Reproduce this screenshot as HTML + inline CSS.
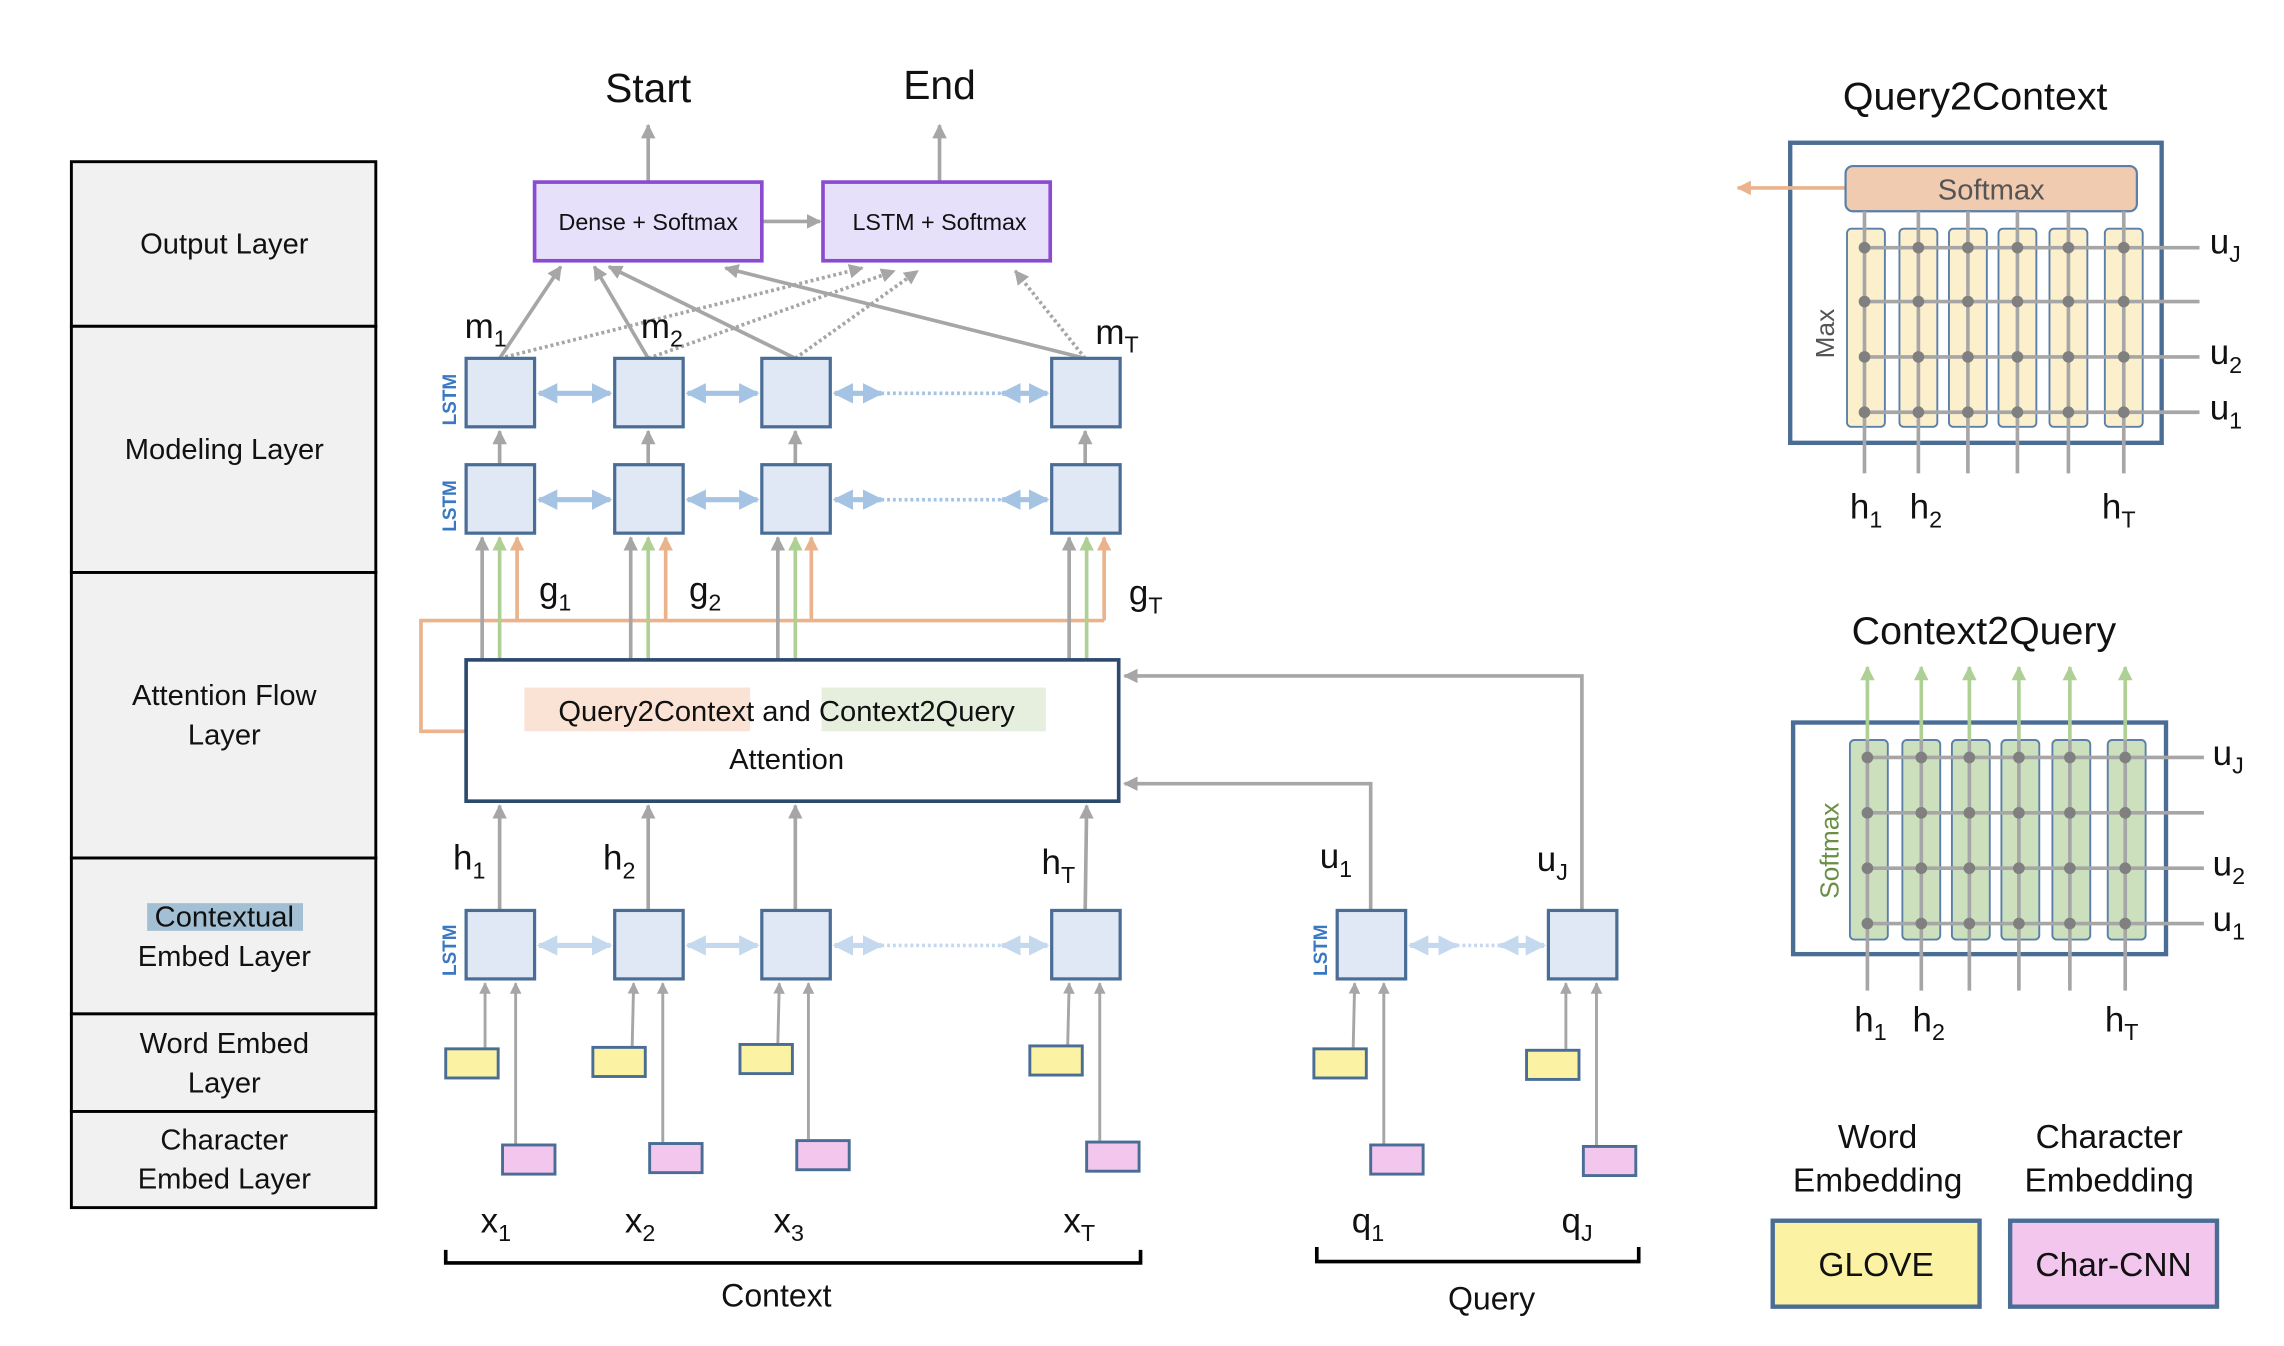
<!DOCTYPE html>
<html><head><meta charset="utf-8"><style>
html,body{margin:0;padding:0;background:#fff}
svg{display:block}
text{font-family:"Liberation Sans",sans-serif;fill:#111}
text.lstm{fill:#3a78c2;font-weight:bold;font-size:13px}
</style></head><body>
<svg width="2284" height="1346" viewBox="0 0 1568 924" preserveAspectRatio="none" xmlns="http://www.w3.org/2000/svg">
<defs>
<marker id="ag" viewBox="0 0 10 10" refX="9" refY="5" markerWidth="4" markerHeight="4" orient="auto-start-reverse"><path d="M0,0L10,5L0,10z" fill="#a6a6a6"/></marker>
<marker id="ao" viewBox="0 0 10 10" refX="9" refY="5" markerWidth="4" markerHeight="4" orient="auto-start-reverse"><path d="M0,0L10,5L0,10z" fill="#eab38c"/></marker>
<marker id="agr" viewBox="0 0 10 10" refX="9" refY="5" markerWidth="4" markerHeight="4" orient="auto-start-reverse"><path d="M0,0L10,5L0,10z" fill="#afd095"/></marker>
<marker id="ab" viewBox="0 0 10 10" refX="9" refY="5" markerWidth="4" markerHeight="4" orient="auto-start-reverse"><path d="M0,0L10,5L0,10z" fill="#a5c3e3"/></marker>
<marker id="ab2" viewBox="0 0 10 10" refX="9" refY="5" markerWidth="4" markerHeight="4" orient="auto-start-reverse"><path d="M0,0L10,5L0,10z" fill="#c5d9ee"/></marker>
</defs>

<g fill="#f1f1f1" stroke="#000" stroke-width="2">
<rect x="49" y="111" width="209" height="113"/>
<rect x="49" y="224" width="209" height="169"/>
<rect x="49" y="393" width="209" height="196"/>
<rect x="49" y="589" width="209" height="107"/>
<rect x="49" y="696" width="209" height="67"/>
<rect x="49" y="763" width="209" height="66"/>
</g>
<g font-size="20" text-anchor="middle">
<text x="154" y="174">Output Layer</text>
<text x="154" y="315">Modeling Layer</text>
<text x="154" y="484">Attention Flow</text>
<text x="154" y="511">Layer</text>
<rect x="101" y="620" width="107" height="19" fill="#a3bfd4"/>
<text x="154" y="636">Contextual</text>
<text x="154" y="663">Embed Layer</text>
<text x="154" y="723">Word Embed</text>
<text x="154" y="750">Layer</text>
<text x="154" y="789">Character</text>
<text x="154" y="816">Embed Layer</text>
</g>

<text x="445" y="70" font-size="28" text-anchor="middle">Start</text>
<text x="645" y="68" font-size="28" text-anchor="middle">End</text>
<g stroke="#a6a6a6" stroke-width="2.5" fill="none">
<line x1="445" y1="125" x2="445" y2="86" marker-end="url(#ag)"/>
<line x1="645" y1="125" x2="645" y2="86" marker-end="url(#ag)"/>
<line x1="523" y1="152" x2="563" y2="152" marker-end="url(#ag)"/>
<line x1="343" y1="246" x2="385" y2="183" marker-end="url(#ag)"/>
<line x1="445" y1="246" x2="408" y2="183" marker-end="url(#ag)"/>
<line x1="546" y1="246" x2="418" y2="183" marker-end="url(#ag)"/>
<line x1="745" y1="246" x2="498" y2="184" marker-end="url(#ag)"/>
</g>
<g stroke="#a6a6a6" stroke-width="2.5" fill="none" stroke-dasharray="2 2">
<line x1="343" y1="246" x2="592" y2="184" marker-end="url(#ag)"/>
<line x1="445" y1="246" x2="614" y2="186" marker-end="url(#ag)"/>
<line x1="546" y1="246" x2="630" y2="186" marker-end="url(#ag)"/>
<line x1="745" y1="246" x2="697" y2="186" marker-end="url(#ag)"/>
</g>
<g fill="#e6e0fb" stroke="#8a4bd1" stroke-width="2.5">
<rect x="367" y="125" width="156" height="54"/>
<rect x="565" y="125" width="156" height="54"/>
</g>
<text x="445" y="158" font-size="16" text-anchor="middle">Dense + Softmax</text>
<text x="645" y="158" font-size="16" text-anchor="middle">LSTM + Softmax</text>

<g font-size="24">
<text x="319" y="232">m<tspan font-size="16" dy="6">1</tspan></text>
<text x="440" y="232">m<tspan font-size="16" dy="6">2</tspan></text>
<text x="752" y="236">m<tspan font-size="16" dy="6">T</tspan></text>
</g>

<g stroke="#a6a6a6" stroke-width="2.5" fill="none">
<line x1="343" y1="319" x2="343" y2="296" marker-end="url(#ag)"/>
<line x1="445" y1="319" x2="445" y2="296" marker-end="url(#ag)"/>
<line x1="546" y1="319" x2="546" y2="296" marker-end="url(#ag)"/>
<line x1="745" y1="319" x2="745" y2="296" marker-end="url(#ag)"/>
</g>
<g stroke="#a5c3e3" stroke-width="3.5" fill="none">
<line x1="370" y1="270" x2="419" y2="270" marker-start="url(#ab)" marker-end="url(#ab)"/>
<line x1="472" y1="270" x2="520" y2="270" marker-start="url(#ab)" marker-end="url(#ab)"/>
<line x1="573" y1="270" x2="605" y2="270" marker-start="url(#ab)" marker-end="url(#ab)"/>
<line x1="688" y1="270" x2="719" y2="270" marker-start="url(#ab)" marker-end="url(#ab)"/>
<line x1="605" y1="270" x2="688" y2="270" stroke-dasharray="2 2" stroke-width="2.5"/>
<line x1="370" y1="343" x2="419" y2="343" marker-start="url(#ab)" marker-end="url(#ab)"/>
<line x1="472" y1="343" x2="520" y2="343" marker-start="url(#ab)" marker-end="url(#ab)"/>
<line x1="573" y1="343" x2="605" y2="343" marker-start="url(#ab)" marker-end="url(#ab)"/>
<line x1="688" y1="343" x2="719" y2="343" marker-start="url(#ab)" marker-end="url(#ab)"/>
<line x1="605" y1="343" x2="688" y2="343" stroke-dasharray="2 2" stroke-width="2.5"/>
</g>
<g fill="#dfe8f4" stroke="#4a6d96" stroke-width="2.2">
<rect x="320" y="246" width="47" height="47"/><rect x="422" y="246" width="47" height="47"/><rect x="523" y="246" width="47" height="47"/><rect x="722" y="246" width="47" height="47"/>
<rect x="320" y="319" width="47" height="47"/><rect x="422" y="319" width="47" height="47"/><rect x="523" y="319" width="47" height="47"/><rect x="722" y="319" width="47" height="47"/>
</g>
<text class="lstm" transform="translate(313,292) rotate(-90)">LSTM</text>
<text class="lstm" transform="translate(313,365) rotate(-90)">LSTM</text>
<text class="lstm" transform="translate(313,670) rotate(-90)">LSTM</text>
<text class="lstm" transform="translate(911,670) rotate(-90)">LSTM</text>

<g stroke="#eab38c" stroke-width="2.5" fill="none">
<polyline points="320,502 289,502 289,426 758,426"/>
<line x1="355" y1="426" x2="355" y2="369" marker-end="url(#ao)"/>
<line x1="457" y1="426" x2="457" y2="369" marker-end="url(#ao)"/>
<line x1="557" y1="426" x2="557" y2="369" marker-end="url(#ao)"/>
<line x1="758" y1="426" x2="758" y2="369" marker-end="url(#ao)"/>
</g>
<g stroke="#a6a6a6" stroke-width="2.5" fill="none">
<line x1="331" y1="453" x2="331" y2="369" marker-end="url(#ag)"/>
<line x1="433" y1="453" x2="433" y2="369" marker-end="url(#ag)"/>
<line x1="534" y1="453" x2="534" y2="369" marker-end="url(#ag)"/>
<line x1="734" y1="453" x2="734" y2="369" marker-end="url(#ag)"/>
</g>
<g stroke="#afd095" stroke-width="2.5" fill="none">
<line x1="343" y1="453" x2="343" y2="369" marker-end="url(#agr)"/>
<line x1="445" y1="453" x2="445" y2="369" marker-end="url(#agr)"/>
<line x1="546" y1="453" x2="546" y2="369" marker-end="url(#agr)"/>
<line x1="746" y1="453" x2="746" y2="369" marker-end="url(#agr)"/>
</g>
<g font-size="24">
<text x="370" y="413">g<tspan font-size="16" dy="6">1</tspan></text>
<text x="473" y="413">g<tspan font-size="16" dy="6">2</tspan></text>
<text x="775" y="415">g<tspan font-size="16" dy="6">T</tspan></text>
</g>

<rect x="320" y="453" width="448" height="97" fill="#fff" stroke="#2c4a6e" stroke-width="2.5"/>
<rect x="360" y="472" width="155" height="30" fill="#fae3d5"/>
<rect x="564" y="472" width="154" height="30" fill="#e6efdd"/>
<text x="540" y="495" font-size="20" text-anchor="middle">Query2Context and Context2Query</text>
<text x="540" y="528" font-size="20" text-anchor="middle">Attention</text>

<g stroke="#a6a6a6" stroke-width="2.5" fill="none">
<polyline points="941,625 941,538 772,538" marker-end="url(#ag)"/>
<polyline points="1086,625 1086,464 772,464" marker-end="url(#ag)"/>
<line x1="343" y1="625" x2="343" y2="553" marker-end="url(#ag)"/>
<line x1="445" y1="625" x2="445" y2="553" marker-end="url(#ag)"/>
<line x1="546" y1="625" x2="546" y2="553" marker-end="url(#ag)"/>
<line x1="745" y1="625" x2="746" y2="553" marker-end="url(#ag)"/>
</g>
<g font-size="24">
<text x="311" y="597">h<tspan font-size="16" dy="6">1</tspan></text>
<text x="414" y="597">h<tspan font-size="16" dy="6">2</tspan></text>
<text x="715" y="600">h<tspan font-size="16" dy="6">T</tspan></text>
<text x="906" y="596">u<tspan font-size="16" dy="6">1</tspan></text>
<text x="1055" y="598">u<tspan font-size="16" dy="6">J</tspan></text>
</g>

<g stroke="#c5d9ee" stroke-width="3.5" fill="none">
<line x1="370" y1="649" x2="419" y2="649" marker-start="url(#ab2)" marker-end="url(#ab2)"/>
<line x1="472" y1="649" x2="520" y2="649" marker-start="url(#ab2)" marker-end="url(#ab2)"/>
<line x1="573" y1="649" x2="605" y2="649" marker-start="url(#ab2)" marker-end="url(#ab2)"/>
<line x1="688" y1="649" x2="719" y2="649" marker-start="url(#ab2)" marker-end="url(#ab2)"/>
<line x1="605" y1="649" x2="688" y2="649" stroke-dasharray="2 2" stroke-width="2.5"/>
<line x1="968" y1="649" x2="1000" y2="649" marker-start="url(#ab2)" marker-end="url(#ab2)"/>
<line x1="1030" y1="649" x2="1060" y2="649" marker-start="url(#ab2)" marker-end="url(#ab2)"/>
<line x1="1000" y1="649" x2="1030" y2="649" stroke-dasharray="2 2" stroke-width="2.5"/>
</g>
<g fill="#dfe8f4" stroke="#4a6d96" stroke-width="2.2">
<rect x="320" y="625" width="47" height="47"/><rect x="422" y="625" width="47" height="47"/><rect x="523" y="625" width="47" height="47"/><rect x="722" y="625" width="47" height="47"/>
<rect x="918" y="625" width="47" height="47"/><rect x="1063" y="625" width="47" height="47"/>
</g>
<g stroke="#a6a6a6" stroke-width="2" fill="none">
<line x1="333" y1="719" x2="333" y2="675" marker-end="url(#ag)"/>
<line x1="354" y1="785" x2="354" y2="675" marker-end="url(#ag)"/>
<line x1="434" y1="718" x2="435" y2="675" marker-end="url(#ag)"/>
<line x1="455" y1="784" x2="455" y2="675" marker-end="url(#ag)"/>
<line x1="534" y1="716" x2="535" y2="675" marker-end="url(#ag)"/>
<line x1="555" y1="782" x2="555" y2="675" marker-end="url(#ag)"/>
<line x1="733" y1="717" x2="734" y2="675" marker-end="url(#ag)"/>
<line x1="755" y1="783" x2="755" y2="675" marker-end="url(#ag)"/>
<line x1="929" y1="719" x2="930" y2="675" marker-end="url(#ag)"/>
<line x1="950" y1="785" x2="950" y2="675" marker-end="url(#ag)"/>
<line x1="1075" y1="720" x2="1075" y2="675" marker-end="url(#ag)"/>
<line x1="1096" y1="786" x2="1096" y2="675" marker-end="url(#ag)"/>
</g>
<g fill="#fbf3a3" stroke="#4a6d96" stroke-width="2">
<rect x="306" y="720" width="36" height="20"/><rect x="407" y="719" width="36" height="20"/><rect x="508" y="717" width="36" height="20"/><rect x="707" y="718" width="36" height="20"/><rect x="902" y="720" width="36" height="20"/><rect x="1048" y="721" width="36" height="20"/>
</g>
<g fill="#f3c6ee" stroke="#4a6d96" stroke-width="2">
<rect x="345" y="786" width="36" height="20"/><rect x="446" y="785" width="36" height="20"/><rect x="547" y="783" width="36" height="20"/><rect x="746" y="784" width="36" height="20"/><rect x="941" y="786" width="36" height="20"/><rect x="1087" y="787" width="36" height="20"/>
</g>
<g font-size="24">
<text x="330" y="846">x<tspan font-size="16" dy="6">1</tspan></text>
<text x="429" y="846">x<tspan font-size="16" dy="6">2</tspan></text>
<text x="531" y="846">x<tspan font-size="16" dy="6">3</tspan></text>
<text x="730" y="846">x<tspan font-size="16" dy="6">T</tspan></text>
<text x="928" y="846">q<tspan font-size="16" dy="6">1</tspan></text>
<text x="1072" y="846">q<tspan font-size="16" dy="6">J</tspan></text>
</g>
<g stroke="#000" stroke-width="2.5" fill="none">
<polyline points="306,858 306,867 783,867 783,858"/>
<polyline points="904,856 904,866 1125,866 1125,856"/>
</g>
<text x="533" y="897" font-size="22" text-anchor="middle">Context</text>
<text x="1024" y="899" font-size="22" text-anchor="middle">Query</text>

<text x="1356" y="75" font-size="27" text-anchor="middle">Query2Context</text>
<rect x="1229" y="98" width="255" height="206" fill="#fff" stroke="#4a6d96" stroke-width="3"/>
<line x1="1267" y1="129" x2="1193" y2="129" stroke="#eab38c" stroke-width="2.5" marker-end="url(#ao)"/>
<rect x="1267" y="114" width="200" height="31" rx="5" fill="#f0cbb0" stroke="#5a7fa8" stroke-width="1.5"/>
<text x="1367" y="137" font-size="20" text-anchor="middle" style="fill:#555">Softmax</text>
<text transform="translate(1259,246) rotate(-90)" font-size="18" style="fill:#555">Max</text>
<g fill="#fcf0cc" stroke="#5a7fa8" stroke-width="1.3">
<rect x="1268" y="157" width="26" height="136" rx="3"/><rect x="1304" y="157" width="26" height="136" rx="3"/><rect x="1338" y="157" width="26" height="136" rx="3"/><rect x="1372" y="157" width="26" height="136" rx="3"/><rect x="1407" y="157" width="26" height="136" rx="3"/><rect x="1445" y="157" width="26" height="136" rx="3"/>
</g>
<g stroke="#a6a6a6" stroke-width="2.5">
<line x1="1280" y1="145" x2="1280" y2="325"/><line x1="1317" y1="145" x2="1317" y2="325"/><line x1="1351" y1="145" x2="1351" y2="325"/><line x1="1385" y1="145" x2="1385" y2="325"/><line x1="1420" y1="145" x2="1420" y2="325"/><line x1="1458" y1="145" x2="1458" y2="325"/>
<line x1="1280" y1="170" x2="1510" y2="170"/><line x1="1280" y1="207" x2="1510" y2="207"/><line x1="1280" y1="245" x2="1510" y2="245"/><line x1="1280" y1="283" x2="1510" y2="283"/>
</g>
<g fill="#808080">
<circle cx="1280" cy="170" r="4"/><circle cx="1317" cy="170" r="4"/><circle cx="1351" cy="170" r="4"/><circle cx="1385" cy="170" r="4"/><circle cx="1420" cy="170" r="4"/><circle cx="1458" cy="170" r="4"/>
<circle cx="1280" cy="207" r="4"/><circle cx="1317" cy="207" r="4"/><circle cx="1351" cy="207" r="4"/><circle cx="1385" cy="207" r="4"/><circle cx="1420" cy="207" r="4"/><circle cx="1458" cy="207" r="4"/>
<circle cx="1280" cy="245" r="4"/><circle cx="1317" cy="245" r="4"/><circle cx="1351" cy="245" r="4"/><circle cx="1385" cy="245" r="4"/><circle cx="1420" cy="245" r="4"/><circle cx="1458" cy="245" r="4"/>
<circle cx="1280" cy="283" r="4"/><circle cx="1317" cy="283" r="4"/><circle cx="1351" cy="283" r="4"/><circle cx="1385" cy="283" r="4"/><circle cx="1420" cy="283" r="4"/><circle cx="1458" cy="283" r="4"/>
</g>
<g font-size="24">
<text x="1517" y="174">u<tspan font-size="16" dy="6">J</tspan></text>
<text x="1517" y="250">u<tspan font-size="16" dy="6">2</tspan></text>
<text x="1517" y="288">u<tspan font-size="16" dy="6">1</tspan></text>
<text x="1270" y="356">h<tspan font-size="16" dy="6">1</tspan></text>
<text x="1311" y="356">h<tspan font-size="16" dy="6">2</tspan></text>
<text x="1443" y="356">h<tspan font-size="16" dy="6">T</tspan></text>
</g>

<text x="1362" y="442" font-size="27" text-anchor="middle">Context2Query</text>
<rect x="1231" y="496" width="256" height="159" fill="#fff" stroke="#4a6d96" stroke-width="3"/>
<text transform="translate(1262,617) rotate(-90)" font-size="18" style="fill:#6a8f45">Softmax</text>
<g fill="#cde0bd" stroke="#5a7fa8" stroke-width="1.3">
<rect x="1270" y="508" width="26" height="137" rx="3"/><rect x="1306" y="508" width="26" height="137" rx="3"/><rect x="1340" y="508" width="26" height="137" rx="3"/><rect x="1374" y="508" width="26" height="137" rx="3"/><rect x="1409" y="508" width="26" height="137" rx="3"/><rect x="1447" y="508" width="26" height="137" rx="3"/>
</g>
<g stroke="#afd095" stroke-width="2.5">
<line x1="1282" y1="508" x2="1282" y2="458" marker-end="url(#agr)"/><line x1="1319" y1="508" x2="1319" y2="458" marker-end="url(#agr)"/><line x1="1352" y1="508" x2="1352" y2="458" marker-end="url(#agr)"/><line x1="1386" y1="508" x2="1386" y2="458" marker-end="url(#agr)"/><line x1="1421" y1="508" x2="1421" y2="458" marker-end="url(#agr)"/><line x1="1459" y1="508" x2="1459" y2="458" marker-end="url(#agr)"/>
</g>
<g stroke="#a6a6a6" stroke-width="2.5">
<line x1="1282" y1="508" x2="1282" y2="680"/><line x1="1319" y1="508" x2="1319" y2="680"/><line x1="1352" y1="508" x2="1352" y2="680"/><line x1="1386" y1="508" x2="1386" y2="680"/><line x1="1421" y1="508" x2="1421" y2="680"/><line x1="1459" y1="508" x2="1459" y2="680"/>
<line x1="1282" y1="520" x2="1513" y2="520"/><line x1="1282" y1="558" x2="1513" y2="558"/><line x1="1282" y1="596" x2="1513" y2="596"/><line x1="1282" y1="634" x2="1513" y2="634"/>
</g>
<g fill="#808080">
<circle cx="1282" cy="520" r="4"/><circle cx="1319" cy="520" r="4"/><circle cx="1352" cy="520" r="4"/><circle cx="1386" cy="520" r="4"/><circle cx="1421" cy="520" r="4"/><circle cx="1459" cy="520" r="4"/>
<circle cx="1282" cy="558" r="4"/><circle cx="1319" cy="558" r="4"/><circle cx="1352" cy="558" r="4"/><circle cx="1386" cy="558" r="4"/><circle cx="1421" cy="558" r="4"/><circle cx="1459" cy="558" r="4"/>
<circle cx="1282" cy="596" r="4"/><circle cx="1319" cy="596" r="4"/><circle cx="1352" cy="596" r="4"/><circle cx="1386" cy="596" r="4"/><circle cx="1421" cy="596" r="4"/><circle cx="1459" cy="596" r="4"/>
<circle cx="1282" cy="634" r="4"/><circle cx="1319" cy="634" r="4"/><circle cx="1352" cy="634" r="4"/><circle cx="1386" cy="634" r="4"/><circle cx="1421" cy="634" r="4"/><circle cx="1459" cy="634" r="4"/>
</g>
<g font-size="24">
<text x="1519" y="525">u<tspan font-size="16" dy="6">J</tspan></text>
<text x="1519" y="601">u<tspan font-size="16" dy="6">2</tspan></text>
<text x="1519" y="639">u<tspan font-size="16" dy="6">1</tspan></text>
<text x="1273" y="708">h<tspan font-size="16" dy="6">1</tspan></text>
<text x="1313" y="708">h<tspan font-size="16" dy="6">2</tspan></text>
<text x="1445" y="708">h<tspan font-size="16" dy="6">T</tspan></text>
</g>

<g font-size="23" text-anchor="middle">
<text x="1289" y="788">Word</text>
<text x="1289" y="818">Embedding</text>
<text x="1448" y="788">Character</text>
<text x="1448" y="818">Embedding</text>
</g>
<rect x="1217" y="838" width="142" height="59" fill="#fbf3a3" stroke="#4a6d96" stroke-width="3"/>
<rect x="1380" y="838" width="142" height="59" fill="#f3c6ee" stroke="#4a6d96" stroke-width="3"/>
<text x="1288" y="876" font-size="23" text-anchor="middle">GLOVE</text>
<text x="1451" y="876" font-size="23" text-anchor="middle">Char-CNN</text>
</svg>
</body></html>
